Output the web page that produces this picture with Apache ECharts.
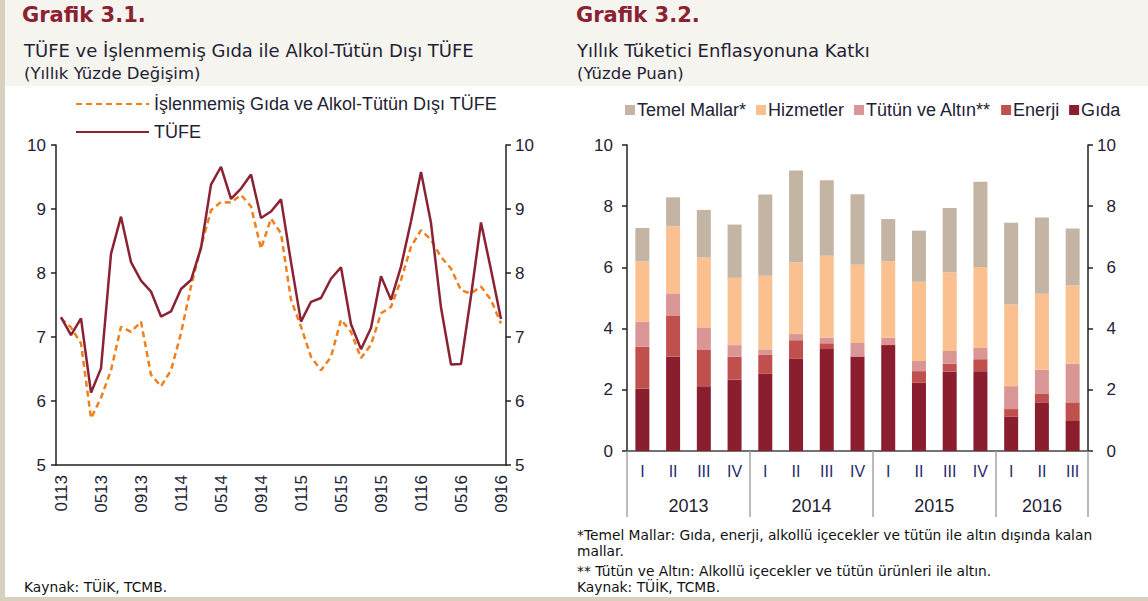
<!DOCTYPE html>
<html>
<head>
<meta charset="utf-8">
<script src="https://cdn.jsdelivr.net/npm/echarts@6/dist/echarts.min.js"></script>
<style>
    * { margin: 0; padding: 0; }
    html, body { width: 1148px; height: 601px; background: #fff; overflow: hidden; }
    #main { width: 1148px; height: 601px; }
</style>
</head>
<body>
<div id="main"></div>
<script>
    // Grafik 3.1 - aylik
    var months = ['0113','0213','0313','0413','0513','0613','0713','0813','0913','1013','1113','1213',
        '0114','0214','0314','0414','0514','0614','0714','0814','0914','1014','1114','1214',
        '0115','0215','0315','0415','0515','0615','0715','0815','0915','1015','1115','1215',
        '0116','0216','0316','0416','0516','0616','0716','0816','0916'];
    var tufe = [7.31, 7.03, 7.29, 6.13, 6.51, 8.30, 8.88, 8.17, 7.88, 7.71, 7.32, 7.40,
        7.75, 7.89, 8.39, 9.38, 9.66, 9.16, 9.32, 9.54, 8.86, 8.96, 9.15, 8.17,
        7.24, 7.55, 7.61, 7.91, 8.09, 7.20, 6.81, 7.14, 7.95, 7.58, 8.10, 8.81,
        9.58, 8.78, 7.46, 6.57, 6.58, 7.64, 8.79, 8.05, 7.28];
    var tufeCekirdek = [7.29, 7.15, 6.90, 5.73, 6.05, 6.48, 7.16, 7.08, 7.24, 6.41, 6.23, 6.48,
        7.06, 7.79, 8.41, 8.98, 9.11, 9.10, 9.22, 9.04, 8.38, 8.85, 8.62, 7.58,
        7.16, 6.69, 6.48, 6.69, 7.27, 7.08, 6.67, 6.88, 7.37, 7.47, 7.89, 8.41,
        8.67, 8.52, 8.25, 8.07, 7.73, 7.68, 7.79, 7.58, 7.21];

    // Grafik 3.2 - ceyreklik katkilar
    var quarters = ['2013 I','2013 II','2013 III','2013 IV','2014 I','2014 II','2014 III','2014 IV',
        '2015 I','2015 II','2015 III','2015 IV','2016 I','2016 II','2016 III'];
    var years = ['2013', '2014', '2015', '2016'];
    var gida = [2.04, 3.09, 2.12, 2.33, 2.52, 3.01, 3.33, 3.09, 3.46, 2.23, 2.60, 2.61, 1.13, 1.59, 0.98];
    var enerji = [1.37, 1.34, 1.20, 0.75, 0.62, 0.61, 0.19, -0.07, 0.00, 0.38, 0.25, 0.39, 0.24, 0.29, 0.61];
    var tutunAltin = [0.82, 0.72, 0.72, 0.38, 0.18, 0.20, 0.18, 0.44, 0.24, 0.33, 0.42, 0.37, 0.75, 0.78, 1.26];
    var hizmetler = [1.97, 2.19, 2.29, 2.20, 2.41, 2.34, 2.68, 2.56, 2.50, 2.59, 2.57, 2.64, 2.67, 2.48, 2.56];
    var temelMallar = [1.09, 0.95, 1.55, 1.74, 2.65, 3.01, 2.47, 2.30, 1.38, 1.67, 2.10, 2.79, 2.67, 2.49, 1.86];

    var fontTitle = '"DejaVu Sans", sans-serif';
    var fontAxis = '"Liberation Sans", Arial, sans-serif';
    var textColor = '#1e2233';
    var koyuKirmizi = '#8b2233';

    // yil ekseni: yarim ceyrek adimlari (0..30)
    var halfSteps = [];
    for (var i = 0; i <= 30; i++) { halfSteps.push(String(i)); }
    var yearLabelPos = [4, 12, 20, 27];
    var yearTickPos = [0, 8, 16, 24, 30];

    var myChart = echarts.init(document.getElementById('main'), null, { renderer: 'svg' });

    var noteFont = '13.8px ' + fontTitle;

    var option = {
        animation: false,
        backgroundColor: '#fff',
        textStyle: { fontFamily: fontAxis, color: textColor },
        graphic: [
            { type: 'rect', shape: { x: 0, y: 0, width: 1148, height: 86 }, style: { fill: '#f5f4ef' }, silent: true },
            { type: 'rect', shape: { x: 0, y: 0, width: 5, height: 601 }, style: { fill: '#d9cfbf' }, silent: true },
            { type: 'rect', shape: { x: 0, y: 597, width: 1148, height: 4 }, style: { fill: '#d9cfbf' }, silent: true },
            { type: 'text', left: 22, top: 4, style: { text: 'Grafik 3.1.', font: 'bold 21px ' + fontTitle, fill: koyuKirmizi } },
            { type: 'text', left: 24, top: 41, style: { text: 'TÜFE ve İşlenmemiş Gıda ile Alkol-Tütün Dışı TÜFE', font: '18px ' + fontTitle, fill: textColor } },
            { type: 'text', left: 24, top: 65, style: { text: '(Yıllık Yüzde Değişim)', font: '16.5px ' + fontTitle, fill: textColor } },
            { type: 'text', left: 576, top: 4, style: { text: 'Grafik 3.2.', font: 'bold 21px ' + fontTitle, fill: koyuKirmizi } },
            { type: 'text', left: 577, top: 41, style: { text: 'Yıllık Tüketici Enflasyonuna Katkı', font: '18px ' + fontTitle, fill: textColor } },
            { type: 'text', left: 577, top: 65, style: { text: '(Yüzde Puan)', font: '16.5px ' + fontTitle, fill: textColor } },
            { type: 'text', left: 24, top: 580, style: { text: 'Kaynak: TÜİK, TCMB.', font: noteFont, fill: '#111' } },
            { type: 'text', left: 577, top: 528, style: { text: '*Temel Mallar: Gıda, enerji, alkollü içecekler ve tütün ile altın dışında kalan', font: noteFont, fill: '#111' } },
            { type: 'text', left: 577, top: 544, style: { text: 'mallar.', font: noteFont, fill: '#111' } },
            { type: 'text', left: 577, top: 564, style: { text: '** Tütün ve Altın: Alkollü içecekler ve tütün ürünleri ile altın.', font: noteFont, fill: '#111' } },
            { type: 'text', left: 577, top: 580, style: { text: 'Kaynak: TÜİK, TCMB.', font: noteFont, fill: '#111' } }
        ],
        legend: [
            {
                orient: 'vertical',
                left: 70,
                top: 90,
                itemWidth: 73,
                itemHeight: 16,
                itemGap: 10,
                itemStyle: { opacity: 0 },
                textStyle: { fontSize: 18, color: textColor, fontFamily: fontAxis },
                data: ['İşlenmemiş Gıda ve Alkol-Tütün Dışı TÜFE', 'TÜFE']
            },
            {
                left: 620,
                top: 96,
                icon: 'rect',
                itemWidth: 10,
                itemHeight: 10,
                itemGap: 10,
                textStyle: { fontSize: 18, color: textColor, fontFamily: fontAxis, padding: [0, 0, 0, -3] },
                data: ['Temel Mallar*', 'Hizmetler', 'Tütün ve Altın**', 'Enerji', 'Gıda']
            }
        ],
        grid: [
            { left: 56, right: 642, top: 145, bottom: 136 },
            { left: 627, right: 60, top: 145, bottom: 150 }
        ],
        xAxis: [
            {
                gridIndex: 0,
                type: 'category',
                data: months,
                boundaryGap: true,
                axisLine: { lineStyle: { color: '#222', width: 1.5 } },
                axisTick: { interval: 3, length: 5, lineStyle: { color: '#222', width: 1.5 } },
                axisLabel: { interval: 3, rotate: 90, fontSize: 17, color: textColor, margin: 10 }
            },
            {
                gridIndex: 1,
                type: 'category',
                data: quarters,
                boundaryGap: true,
                axisLine: { lineStyle: { color: '#444', width: 1.5 } },
                axisTick: { length: 33, lineStyle: { color: '#a3a3a3', width: 1.5 } },
                axisLabel: {
                    fontSize: 16, color: '#1f2a6e', margin: 12,
                    formatter: function (v) { return v.split(' ')[1]; }
                }
            },
            {
                gridIndex: 1,
                type: 'category',
                data: halfSteps,
                boundaryGap: false,
                position: 'bottom',
                axisLine: { show: false },
                axisTick: {
                    length: 66,
                    interval: function (idx) { return yearTickPos.indexOf(idx) >= 0; },
                    lineStyle: { color: '#a3a3a3', width: 1.5 }
                },
                axisLabel: {
                    fontSize: 18, color: textColor, margin: 46,
                    interval: function (idx) { return yearLabelPos.indexOf(idx) >= 0; },
                    formatter: function (v, idx) { return years[yearLabelPos.indexOf(idx)]; }
                }
            }
        ],
        yAxis: [
            {
                gridIndex: 0, type: 'value', min: 5, max: 10, interval: 1, position: 'left',
                axisLine: { show: true, lineStyle: { color: '#222', width: 1.5 } },
                axisTick: { show: true, length: 5, lineStyle: { color: '#222', width: 1.5 } },
                axisLabel: { fontSize: 17, color: textColor, margin: 10 },
                splitLine: { show: false }
            },
            {
                gridIndex: 0, type: 'value', min: 5, max: 10, interval: 1, position: 'right',
                axisLine: { show: true, lineStyle: { color: '#222', width: 1.5 } },
                axisTick: { show: true, length: 5, lineStyle: { color: '#222', width: 1.5 } },
                axisLabel: { fontSize: 17, color: textColor, margin: 9 },
                splitLine: { show: false }
            },
            {
                gridIndex: 1, type: 'value', min: 0, max: 10, interval: 2, position: 'left',
                axisLine: { show: true, lineStyle: { color: '#222', width: 1.5 } },
                axisTick: { show: true, length: 5, lineStyle: { color: '#222', width: 1.5 } },
                axisLabel: { fontSize: 17, color: textColor, margin: 14 },
                splitLine: { show: false }
            },
            {
                gridIndex: 1, type: 'value', min: 0, max: 10, interval: 2, position: 'right',
                axisLine: { show: true, lineStyle: { color: '#222', width: 1.5 } },
                axisTick: { show: true, length: 5, lineStyle: { color: '#222', width: 1.5 } },
                axisLabel: { fontSize: 17, color: textColor, margin: 28, align: 'right' },
                splitLine: { show: false }
            }
        ],
        series: [
            {
                name: 'İşlenmemiş Gıda ve Alkol-Tütün Dışı TÜFE',
                type: 'line', xAxisIndex: 0, yAxisIndex: 0,
                data: tufeCekirdek, symbol: 'none',
                lineStyle: { color: '#f07f1e', width: 2.5, type: [6, 4] },
                itemStyle: { color: '#f07f1e' }
            },
            {
                name: 'TÜFE',
                type: 'line', xAxisIndex: 0, yAxisIndex: 0,
                data: tufe, symbol: 'none',
                lineStyle: { color: koyuKirmizi, width: 2.5 },
                itemStyle: { color: koyuKirmizi }
            },
            { name: 'Gıda', type: 'bar', stack: 'katki', xAxisIndex: 1, yAxisIndex: 2, barWidth: 14, data: gida, itemStyle: { color: '#8b1e2e' } },
            { name: 'Enerji', type: 'bar', stack: 'katki', xAxisIndex: 1, yAxisIndex: 2, barWidth: 14, data: enerji, itemStyle: { color: '#c0504d' } },
            { name: 'Tütün ve Altın**', type: 'bar', stack: 'katki', xAxisIndex: 1, yAxisIndex: 2, barWidth: 14, data: tutunAltin, itemStyle: { color: '#da9694' } },
            { name: 'Hizmetler', type: 'bar', stack: 'katki', xAxisIndex: 1, yAxisIndex: 2, barWidth: 14, data: hizmetler, itemStyle: { color: '#fac08f' } },
            { name: 'Temel Mallar*', type: 'bar', stack: 'katki', xAxisIndex: 1, yAxisIndex: 2, barWidth: 14, data: temelMallar, itemStyle: { color: '#c4b4a3' } }
        ]
    };

    myChart.setOption(option);
</script>
</body>
</html>
